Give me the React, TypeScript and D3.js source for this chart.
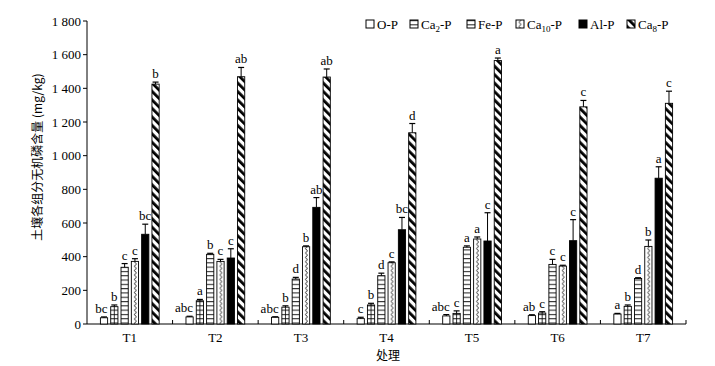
import React from 'react';
import * as d3 from 'd3';

const categories = ['T1', 'T2', 'T3', 'T4', 'T5', 'T6', 'T7'];
const seriesKeys = ['O-P', 'Ca2-P', 'Fe-P', 'Ca10-P', 'Al-P', 'Ca8-P'];

const opValues = [37, 42, 40, 32, 48, 50, 59];
const ca2Values = [103, 138, 100, 113, 63, 65, 105];
const feValues = [337, 414, 267, 287, 456, 354, 270];
const ca10Values = [372, 372, 459, 364, 505, 344, 461];
const alValues = [533, 392, 693, 560, 493, 495, 866];
const ca8Values = [1425, 1469, 1467, 1136, 1565, 1290, 1311];

const opErr = [5, 4, 3, 8, 8, 5, 4];
const ca2Err = [10, 8, 8, 10, 15, 8, 8];
const feErr = [22, 6, 10, 15, 8, 30, 5];
const ca10Err = [16, 12, 5, 5, 12, 5, 38];
const alErr = [60, 55, 58, 73, 168, 125, 68];
const ca8Err = [12, 55, 48, 55, 15, 38, 72];

const opLetters = ['bc', 'abc', 'abc', 'c', 'abc', 'ab', 'a'];
const ca2Letters = ['b', 'a', 'b', 'b', 'c', 'c', 'b'];
const feLetters = ['c', 'b', 'd', 'd', 'a', 'c', 'd'];
const ca10Letters = ['c', 'c', 'b', 'c', 'a', 'c', 'b'];
const alLetters = ['bc', 'c', 'ab', 'bc', 'c', 'c', 'a'];
const ca8Letters = ['b', 'ab', 'ab', 'd', 'a', 'c', 'c'];

const yTicks = [0, 200, 400, 600, 800, 1000, 1200, 1400, 1600, 1800];

const seriesValues = [opValues, ca2Values, feValues, ca10Values, alValues, ca8Values];
const seriesErrs = [opErr, ca2Err, feErr, ca10Err, alErr, ca8Err];
const seriesLetters = [opLetters, ca2Letters, feLetters, ca10Letters, alLetters, ca8Letters];

const fills = ['#fff', 'url(#pH)', 'url(#pH)', 'url(#pS)', '#000', 'url(#pD)'];

const FONT = '"Liberation Serif", "Times New Roman", serif';

const legendX = [366, 410, 467, 516, 579, 627];

function LegendLabel({ k }: { k: string }) {
  const m = k.match(/^Ca(\d+)-P$/);
  if (m) {
    return (
      <>
        <tspan>Ca</tspan>
        <tspan fontSize={9} dy={3}>{m[1]}</tspan>
        <tspan dy={-3}>-P</tspan>
      </>
    );
  }
  return <>{k}</>;
}

export default function App() {
  const W = 715;
  const H = 366;
  const x = d3.scaleBand<string>().domain(categories).range([87, 686]);
  const inner = d3
    .scaleBand<string>()
    .domain(seriesKeys)
    .range([0, x.bandwidth()])
    .paddingInner(0.3)
    .paddingOuter(1.3);
  const y = d3.scaleLinear().domain([0, 1800]).range([324, 21]);
  const fmt = (v: number) => d3.format(',')(v).replace(/,/g, ' ');
  const bw = inner.bandwidth();

  return (
    <svg
      width={W}
      height={H}
      style={{ position: 'absolute', left: 0, top: 0, background: '#fff', fontFamily: FONT }}
    >
      <defs>
        <pattern id="pH" patternUnits="userSpaceOnUse" width={20} height={4.3}>
          <rect width={20} height={4.3} fill="#fff" />
          <line x1={0} x2={20} y1={0.6} y2={0.6} stroke="#000" strokeWidth={0.9} />
        </pattern>
        <pattern id="pS" patternUnits="userSpaceOnUse" width={bw} height={4.4}>
          <rect width={bw} height={4.4} fill="#fff" />
          <path
            d={`M${bw * 0.7},0.4 Q${bw * 0.15},2.2 ${bw * 0.7},4.0`}
            fill="none"
            stroke="#000"
            strokeWidth={0.8}
          />
        </pattern>
        <pattern
          id="pD"
          patternUnits="userSpaceOnUse"
          width={6}
          height={10}
          patternTransform="rotate(-45)"
        >
          <rect width={6} height={10} fill="#fff" />
          <rect width={2.8} height={10} fill="#000" />
        </pattern>
      </defs>

      {/* y axis */}
      <line x1={87} x2={87} y1={y(1800)} y2={y(0)} stroke="#000" strokeWidth={1} />
      {yTicks.map((t) => (
        <g key={t}>
          <line x1={83} x2={87} y1={y(t)} y2={y(t)} stroke="#000" />
          <text x={81} y={y(t)} dy="0.35em" textAnchor="end" fontSize={13}>
            {fmt(t)}
          </text>
        </g>
      ))}
      <text
        transform={`translate(38,157) rotate(-90)`}
        textAnchor="middle"
        dy="0.35em"
        fontSize={12}
        style={{ fontFamily: '"Noto Sans CJK SC", "Liberation Serif", serif' }}
      >
        土壤各组分无机磷含量 (mg/kg)
      </text>

      {/* x axis */}
      <line x1={87} x2={686} y1={y(0)} y2={y(0)} stroke="#000" />
      {categories.map((c) => (
        <line
          key={'t' + c}
          x1={(x(c) as number) + x.bandwidth()}
          x2={(x(c) as number) + x.bandwidth()}
          y1={y(0)}
          y2={y(0) - 4}
          stroke="#000"
        />
      ))}
      {categories.map((c) => (
        <text
          key={'l' + c}
          x={(x(c) as number) + x.bandwidth() / 2}
          y={342}
          textAnchor="middle"
          fontSize={13}
        >
          {c}
        </text>
      ))}
      <text
        x={388}
        y={360}
        textAnchor="middle"
        fontSize={12}
        style={{ fontFamily: '"Noto Sans CJK SC", serif' }}
      >
        处理
      </text>

      {/* bars */}
      {categories.map((c, ci) => (
        <g key={'g' + c}>
          {seriesKeys.map((s, si) => {
            const v = seriesValues[si][ci];
            const e = seriesErrs[si][ci];
            const bx = (x(c) as number) + (inner(s) as number);
            const top = y(v);
            const et = y(v + e);
            const lbl = seriesLetters[si][ci];
            return (
              <g key={s} transform={`translate(${bx},0)`}>
                <rect
                  x={0}
                  y={top}
                  width={bw}
                  height={y(0) - top}
                  fill={fills[si]}
                  stroke="#000"
                  strokeWidth={0.9}
                />
                {si === 1 && (
                  <line
                    x1={bw / 2}
                    x2={bw / 2}
                    y1={top}
                    y2={y(0)}
                    stroke="#000"
                    strokeWidth={0.8}
                  />
                )}
                <line x1={bw / 2} x2={bw / 2} y1={top} y2={et} stroke="#000" strokeWidth={1} />
                <line x1={bw / 2 - 3} x2={bw / 2 + 3} y1={et} y2={et} stroke="#000" strokeWidth={1.2} />
                <text
                  x={si === 0 && lbl.length > 1 ? bw / 2 + 3.5 : bw / 2}
                  y={et - 4}
                  textAnchor={si === 0 && lbl.length > 1 ? 'end' : 'middle'}
                  fontSize={13}
                >
                  {lbl}
                </text>
              </g>
            );
          })}
        </g>
      ))}

      {/* legend */}
      {seriesKeys.map((s, si) => (
        <g key={'lg' + s} transform={`translate(${legendX[si]},20)`}>
          <rect x={0} y={0} width={8} height={8} fill={fills[si]} stroke="#000" strokeWidth={1} />
          <text x={11} y={8.5} fontSize={13}>
            <LegendLabel k={s} />
          </text>
        </g>
      ))}
    </svg>
  );
}
